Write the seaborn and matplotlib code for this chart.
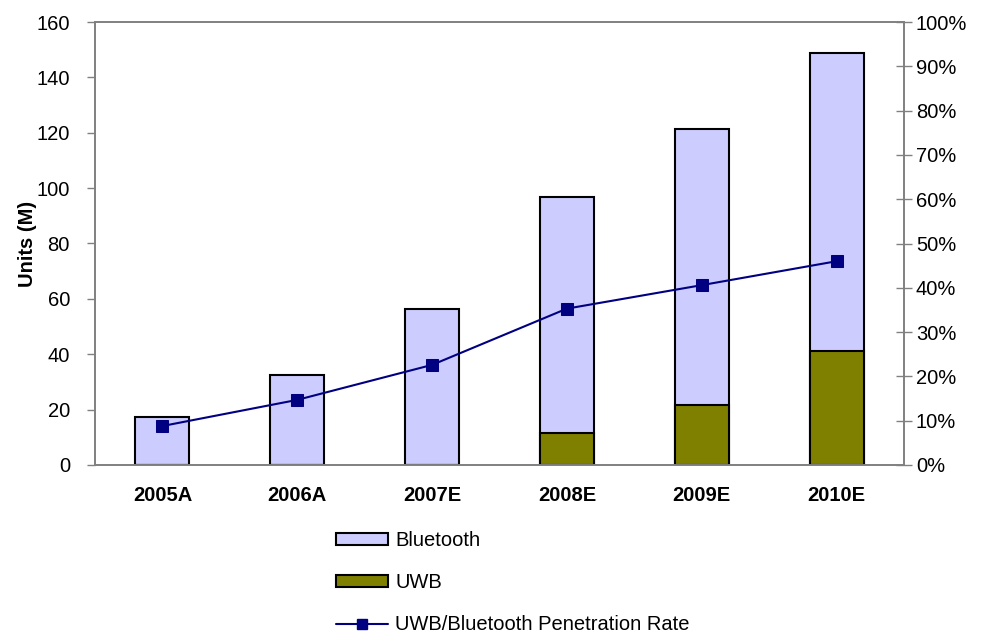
import numpy as np
import matplotlib
matplotlib.use("Agg")
import matplotlib.pyplot as plt
import seaborn as sns
from matplotlib.patches import Patch
from matplotlib.lines import Line2D
from matplotlib.ticker import FuncFormatter, MultipleLocator, FixedLocator

years = ["2005A", "2006A", "2007E", "2008E", "2009E", "2010E"]
uwb = [0, 0, 0, 11.5, 21.7, 41.2]
bluetooth = [17.3, 32.5, 56.3, 85.2, 99.6, 107.5]
penetration = [8.8, 14.7, 22.6, 35.3, 40.6, 46.0]

sns.set_theme(style="white")
plt.rcParams['font.family'] = ['Liberation Sans', 'DejaVu Sans']
plt.rcParams['text.color'] = 'black'
plt.rcParams['axes.labelcolor'] = 'black'
plt.rcParams['xtick.color'] = 'black'
plt.rcParams['ytick.color'] = 'black'

FS = 14.5

fig = plt.figure(figsize=(9.86, 6.35), dpi=100)
ax = fig.add_axes([95/986, 1-465/635, (904-95)/986, (465-22)/635])

totals = [u + b for u, b in zip(uwb, bluetooth)]
sns.barplot(x=years, y=totals, color="#CCCCFF", edgecolor="black", linewidth=1.5,
            width=0.4, saturation=1, ax=ax)
sns.barplot(x=years, y=uwb, color="#808000", edgecolor="black", linewidth=1.5,
            width=0.4, saturation=1, ax=ax)

ax.set_xlim(-0.5, 5.5)
ax.set_ylim(0, 160)
ax.yaxis.set_major_locator(MultipleLocator(20))
ax.set_ylabel("Units (M)", fontsize=FS, fontweight="bold")
ax.yaxis.set_label_coords(-(95-37)/809, 0.5)
ax.set_xlabel("")
ax.tick_params(axis="x", which="major", length=0, labelsize=FS, pad=15)
for t in ax.get_xticklabels():
    t.set_fontweight("bold")
ax.xaxis.set_minor_locator(FixedLocator(np.arange(-0.5, 6.0, 1.0)))
ax.tick_params(axis="x", which="minor", length=6, width=1, color="#808080", direction="out")
ax.tick_params(axis="y", length=6, width=1, color="#808080", labelcolor="black",
               direction="out", labelsize=FS, left=True, pad=12)

for s in ax.spines.values():
    s.set_color("#808080")
    s.set_linewidth(1.2)
    s.set_visible(True)

ax2 = ax.twinx()
xs = np.arange(len(years))
sns.lineplot(x=xs, y=penetration, ax=ax2, color="#000080", linewidth=1.5,
             marker="s", markersize=9, markeredgecolor="#000080")
ax2.set_ylim(0, 100)
ax2.yaxis.set_major_locator(MultipleLocator(10))
ax2.yaxis.set_major_formatter(FuncFormatter(lambda v, p: f"{int(round(v))}%"))
ax2.tick_params(axis="y", length=11, width=1, color="#808080", labelcolor="black",
                direction="inout", labelsize=FS, right=True, pad=3)
ax2.set_xlim(-0.5, 5.5)
for s in ax2.spines.values():
    s.set_color("#808080")
    s.set_linewidth(1.2)

handles = [
    Patch(facecolor="#CCCCFF", edgecolor="black", linewidth=1.5, label="Bluetooth"),
    Patch(facecolor="#808000", edgecolor="black", linewidth=1.5, label="UWB"),
    Line2D([0], [0], color="#000080", linewidth=1.5, marker="s", markersize=7,
           label="UWB/Bluetooth Penetration Rate"),
]
fig.legend(handles=handles, loc="upper left", bbox_to_anchor=(326/986, 1-521/635),
           frameon=False, fontsize=FS, labelspacing=1.15, handlelength=2.6,
           handleheight=0.55, handletextpad=0.35, borderpad=0.0)

fig.savefig("out.png", dpi=100)
